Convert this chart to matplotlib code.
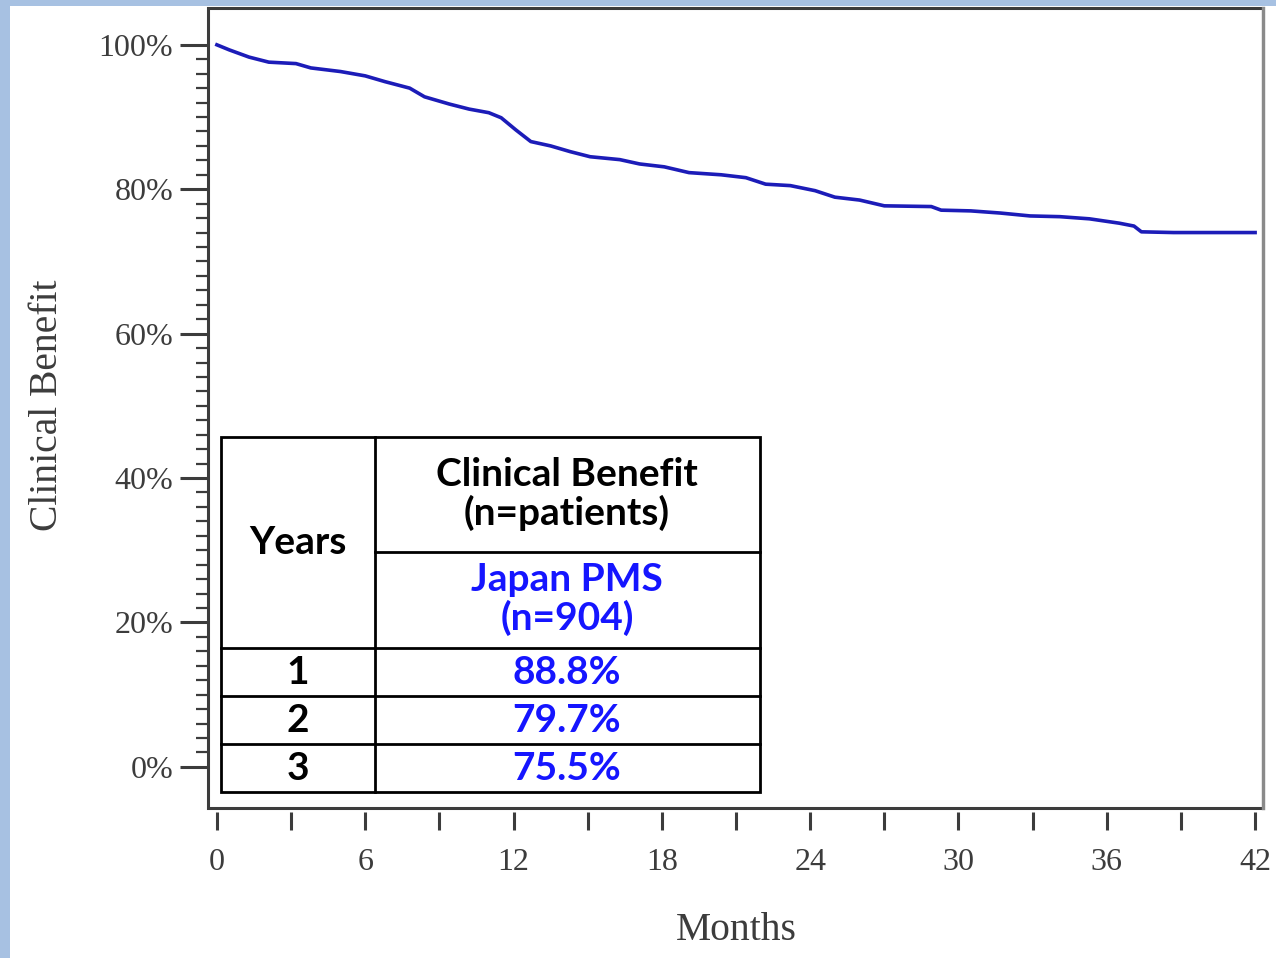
import matplotlib
matplotlib.use("Agg")
import matplotlib.pyplot as plt
from matplotlib.patches import Rectangle
from matplotlib.lines import Line2D
import numpy as np

# Kaplan-Meier style curve (months, % clinical benefit)
months = [0, 0.5, 1.3, 2.1, 3.2, 3.8, 5.0, 6.0, 6.8, 7.8, 8.4, 9.4, 10.2, 11.0,
          11.5, 12.1, 12.7, 13.5, 14.3, 15.1, 16.3, 17.1, 18.1, 19.1, 20.4,
          21.4, 22.2, 23.2, 24.2, 25.0, 26.0, 27.0, 28.9, 29.3, 30.5, 31.7,
          32.9, 34.1, 35.3, 36.5, 37.1, 37.4, 38.7, 42.0]
benefit = [100, 99.3, 98.3, 97.6, 97.4, 96.8, 96.3, 95.7, 94.9, 94.0, 92.8, 91.8,
           91.1, 90.6, 89.9, 88.2, 86.6, 86.0, 85.2, 84.5, 84.1, 83.5, 83.1,
           82.3, 82.0, 81.6, 80.7, 80.5, 79.8, 78.9, 78.5, 77.7, 77.6, 77.1,
           77.0, 76.7, 76.3, 76.2, 75.9, 75.3, 74.9, 74.1, 74.0, 74.0]

# inset table
years = ["1", "2", "3"]
year_values = ["88.8%", "79.7%", "75.5%"]
col_header = "Clinical Benefit\n(n=patients)"
group_header = "Japan PMS\n(n=904)"

W, H = 1276, 958
BLUE = "#1515ff"
GREY = "#3c3c3c"


def px(x, y):
    # pixel position -> figure fraction
    return x / W, 1 - y / H


fig = plt.figure(figsize=(W / 100, H / 100), dpi=100)
fig.patch.set_facecolor("white")

# light blue slide border on the left and top
fig.add_artist(Rectangle((0, 0), 10 / W, 1, transform=fig.transFigure,
                         facecolor="#a7c1e2", edgecolor="none", zorder=-5))
fig.add_artist(Rectangle((0, 1 - 6 / H), 1, 6 / H, transform=fig.transFigure,
                         facecolor="#a7c1e2", edgecolor="none", zorder=-5))

l, b = px(208, 808)
r, t = px(1263, 8)
ax = fig.add_axes([l, b, r - l, t - b])

ax.plot(months, benefit, color="#1c1cb8", lw=2.6, zorder=3,
        solid_joinstyle="round")

ax.set_xlim(-0.36, 42.32)
ax.set_ylim(-5.7, 105.1)

# frame drawn by hand so the x ticks can sit a bit below it
for s in ax.spines.values():
    s.set_visible(False)
ax.spines["bottom"].set_position(("outward", 3))
ax.add_patch(Rectangle((0, 0), 1, 1, transform=ax.transAxes, fill=False,
                       edgecolor=GREY, lw=2.2, clip_on=False, zorder=4))
ax.add_artist(Line2D([1, 1], [0, 1], transform=ax.transAxes, color="#8a8a8a",
                     lw=2.4, clip_on=False, zorder=5))

ax.set_xticks(np.arange(0, 43, 6))
ax.set_xticks(np.arange(3, 43, 6), minor=True)
ax.set_yticks(np.arange(0, 101, 20))
ax.set_yticks(np.arange(0, 101, 2), minor=True)
ax.set_yticklabels([f"{v}%" for v in range(0, 101, 20)])

ax.tick_params(axis="x", which="both", direction="out", length=13, width=2.2,
               color=GREY, labelsize=23, labelcolor=GREY, pad=13)
ax.tick_params(axis="y", which="major", direction="out", length=20, width=2.2,
               color=GREY, labelsize=23, labelcolor=GREY, pad=5)
ax.tick_params(axis="y", which="minor", direction="out", length=8.5, width=1.6,
               color=GREY)
for lab in ax.get_xticklabels() + ax.get_yticklabels():
    lab.set_family("Liberation Serif")

fig.text(*px(736, 930), "Months", family="Liberation Serif", fontsize=28.5,
         color=GREY, ha="center", va="center")
fig.text(*px(48, 405), "Clinical Benefit", family="Liberation Serif",
         fontsize=28.5, color=GREY, ha="center", va="center", rotation=90)

# table box
x0, x1, xm = 221, 760, 375
y0, y1 = 437, 792
bl = px(x0, y1)
tr = px(x1, y0)
fig.add_artist(Rectangle(bl, tr[0] - bl[0], tr[1] - bl[1], transform=fig.transFigure,
                         facecolor="white", edgecolor="black", lw=2, zorder=6))


def hline(y, xa, xb):
    a, c = px(xa, y), px(xb, y)
    fig.add_artist(Line2D([a[0], c[0]], [a[1], c[1]], transform=fig.transFigure,
                          color="black", lw=2, zorder=7))


a, c = px(xm, y0), px(xm, y1)
fig.add_artist(Line2D([a[0], c[0]], [a[1], c[1]], transform=fig.transFigure,
                      color="black", lw=2, zorder=7))
hline(552, xm, x1)
for yy in (648, 696, 744):
    hline(yy, x0, x1)

tk = dict(family="Lato", weight="bold", fontsize=28, ha="center", va="center",
          zorder=8, linespacing=1.08)
fig.text(*px(298, 543), "Years", color="black", **tk)
fig.text(*px(567, 494), col_header, color="black", **tk)
fig.text(*px(567, 599), group_header, color=BLUE, **tk)
for i, (yr, val) in enumerate(zip(years, year_values)):
    yc = 672 + 48 * i
    fig.text(*px(298, yc), yr, color="black", **tk)
    fig.text(*px(567, yc), val, color=BLUE, **tk)

fig.savefig("out.png", dpi=100)
